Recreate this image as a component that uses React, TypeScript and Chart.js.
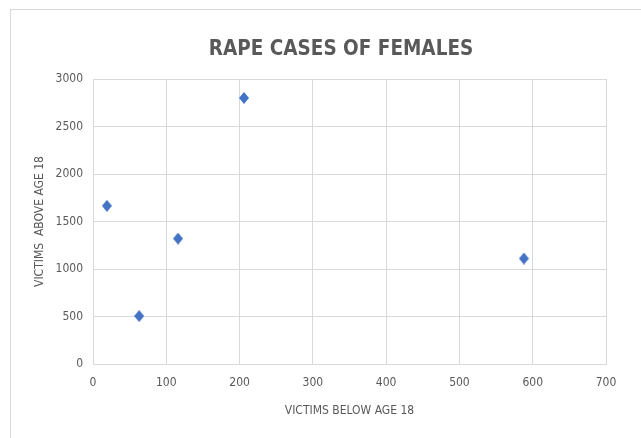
import React, { useEffect, useRef } from "react";
import { Chart, registerables } from "chart.js";

Chart.register(...registerables);

const chartTitle = "RAPE CASES OF FEMALES";
const xAxisTitle = "VICTIMS BELOW AGE 18";
const yAxisTitle = "VICTIMS  ABOVE AGE 18";
const victimsBelow18 = [19, 63, 116, 206, 588];
const victimsAbove18 = [1665, 505, 1320, 2800, 1110];
const xTickValues = [0, 100, 200, 300, 400, 500, 600, 700];
const yTickValues = [0, 500, 1000, 1500, 2000, 2500, 3000];

const FONT = "'Liberation Sans Narrow', 'DejaVu Sans Condensed', 'Liberation Sans', sans-serif";
const GRAY = "#595959";
const GRID = "#d9d9d9";
const MARKER = "#4472C4";

function makeDiamond(w: number, h: number): HTMLCanvasElement {
  const c = document.createElement("canvas");
  c.width = w;
  c.height = h;
  const g = c.getContext("2d")!;
  g.fillStyle = MARKER;
  g.beginPath();
  g.moveTo(w / 2, 0);
  g.lineTo(w, h / 2);
  g.lineTo(w / 2, h);
  g.lineTo(0, h / 2);
  g.closePath();
  g.fill();
  return c;
}

const titlePlugin = {
  id: "customTitle",
  afterDraw(chart: any) {
    const ctx = chart.ctx;
    ctx.save();
    ctx.font = `bold 20.5px ${FONT}`;
    ctx.fillStyle = GRAY;
    ctx.textAlign = "center";
    ctx.textBaseline = "middle";
    ctx.fillText(chartTitle, 341, 50);
    ctx.restore();
  },
};

export default function App() {
  const ref = useRef<HTMLCanvasElement | null>(null);
  useEffect(() => {
    if (!ref.current) return;
    const points = victimsBelow18.map((x, i) => ({ x, y: victimsAbove18[i] }));
    const diamond = makeDiamond(10, 12);
    const chart = new Chart(ref.current, {
      type: "scatter",
      data: {
        datasets: [
          {
            label: "Victims",
            data: points,
            pointStyle: diamond as any,
            pointRadius: 6,
            pointHoverRadius: 6,
            backgroundColor: MARKER,
            borderColor: MARKER,
          },
        ],
      },
      plugins: [titlePlugin],
      options: {
        responsive: false,
        animation: false,
        devicePixelRatio: 1,
        layout: { padding: { left: 30, right: 35, top: 79, bottom: 0 } },
        plugins: {
          legend: { display: false },
          tooltip: { enabled: false },
          title: { display: false },
        },
        scales: {
          x: {
            type: "linear",
            min: 0,
            max: 700,
            afterBuildTicks: (s: any) => {
              s.ticks = xTickValues.map((v) => ({ value: v }));
            },
            afterFit: (s: any) => {
              s.height = 74;
            },
            ticks: {
              color: GRAY,
              font: { family: FONT, size: 12 },
              padding: 12,
              callback: (v: any) => String(v),
            },
            grid: { color: GRID, drawTicks: false },
            border: { color: GRID },
            title: {
              display: true,
              text: xAxisTitle,
              color: GRAY,
              font: { family: FONT, size: 12 },
              padding: { top: 0, bottom: 20 },
            },
          },
          y: {
            type: "linear",
            min: 0,
            max: 3000,
            afterBuildTicks: (s: any) => {
              s.ticks = yTickValues.map((v) => ({ value: v }));
            },
            afterFit: (s: any) => {
              s.width = 63;
            },
            ticks: {
              color: GRAY,
              font: { family: FONT, size: 12 },
              padding: 10,
              callback: (v: any) => String(v),
            },
            grid: { color: GRID, drawTicks: false },
            border: { color: GRID },
            title: {
              display: true,
              text: yAxisTitle,
              color: GRAY,
              font: { family: FONT, size: 12 },
              padding: { top: 3, bottom: 0 },
            },
          },
        },
      },
    });
    return () => chart.destroy();
  }, []);

  return (
    <div style={{ position: "absolute", left: 0, top: 0, width: 641, height: 438, overflow: "hidden", background: "#fff" }}>
      <div
        style={{
          position: "absolute",
          left: 10,
          top: 9,
          width: 700,
          height: 500,
          border: "1px solid #d9d9d9",
          boxSizing: "border-box",
        }}
      />
      <canvas ref={ref} width={641} height={438} style={{ position: "absolute", left: 0, top: 0 }} />
    </div>
  );
}
